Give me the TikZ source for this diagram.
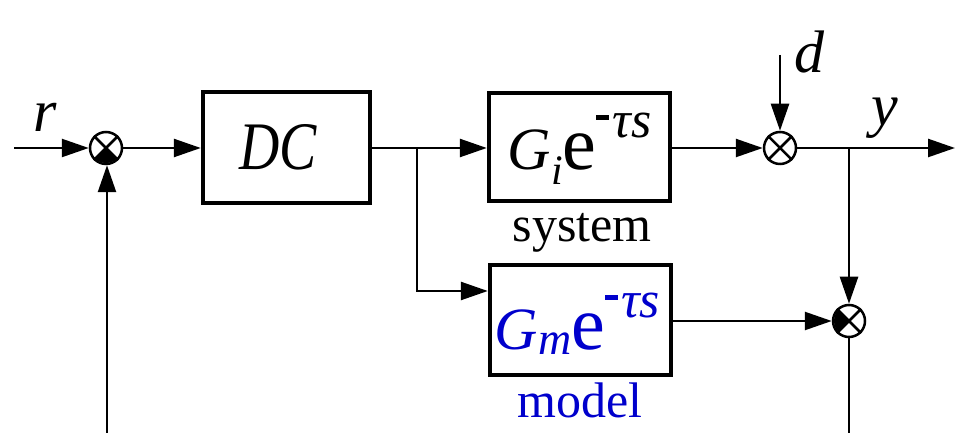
\documentclass[tikz,border=0pt]{standalone}
\usepackage{fontspec}
\setmainfont{Liberation Serif}
\usetikzlibrary{arrows.meta}
\definecolor{modelblue}{RGB}{0,0,204}
\newcommand{\fsz}[1]{\fontsize{#1}{#1}\selectfont}
% #1 subscript letter, #2 drop, #3 size of subscript
\newcommand{\delayexpr}[3]{{\fsz{60}\textit{G}}\raisebox{-#2}{\fsz{#3}\textit{#1}}{\fsz{76}e}\raisebox{50pt}{\rule{13pt}{5pt}}\hspace{3pt}\raisebox{32pt}{\fsz{52}\textit{τs}}}
\begin{document}
\begin{tikzpicture}[x=1pt,y=1pt,
  conn/.style={line width=2.5pt},
  arr/.style={conn,-{Triangle[length=27pt,width=18pt]}},
  blockbox/.style={draw,line width=4.4pt,minimum width=181pt,minimum height=108pt,inner sep=0pt},
  sumc/.style={draw,circle,line width=2.5pt,minimum size=32pt,inner sep=0pt},
  lbl/.style={font=\fsz{60}\itshape,inner sep=0pt,anchor=base},
  sublbl/.style={font=\fsz{50},inner sep=0pt,anchor=base}]
\useasboundingbox (0,0) rectangle (957,433);
% summing junctions
\node[sumc] (s1) at (106,285) {};
\node[sumc] (s2) at (780,285) {};
\node[sumc] (s3) at (849,112) {};
\foreach \s in {s1,s2,s3}{
  \draw[conn] (\s.north west) -- (\s.south east) (\s.north east) -- (\s.south west);
}
\fill (s1.center) -- ++(225:15) arc[start angle=225,end angle=315,radius=15] -- cycle;
\fill (s3.center) -- ++(135:15) arc[start angle=135,end angle=225,radius=15] -- cycle;
% blocks
\node[blockbox,minimum width=167pt,minimum height=111pt,text height=47pt,text depth=3pt] (dc) at (286.5,285.5) {\hspace{-16pt}\scalebox{0.82}[1]{\fsz{68}\textit{DC}}};
\node[blockbox,text height=62pt,text depth=16pt] (gi) at (579.5,286) {\delayexpr{i}{15pt}{42}};
\node[blockbox,text=modelblue,minimum height=110pt,text height=64pt,text depth=4pt] (gm) at (580.5,113) {\hspace{-6pt}\delayexpr{m}{5pt}{46}};
\node[sublbl] (sys) at (582,191) {system};
\node[sublbl,text=modelblue] (mdl) at (580,15) {model};
% labels
\node[lbl] (rl) at (45,301) {r};
\node[lbl] (dl) at (809,360) {d};
\node[lbl] (yl) at (885,307) {y};
% coordinates
\coordinate (rin) at (14,285);
\coordinate (br) at (417,285);
\coordinate (din) at (780,378);
\coordinate (yb) at (849,285);
\coordinate (yout) at (955,285);
\coordinate (fb) at (107,0);
\coordinate (s3end) at (849,0);
\coordinate (gmin) at (417,142);
% connectors
\draw[arr] (rin) -- (s1.west);
\draw[arr] (s1.east) -- (dc.west |- s1.east);
\draw[conn] (dc.east |- br) -- (br);
\draw[arr] (br) -- (gi.west |- br);
\draw[arr] (br) -- (gmin) -- (gm.west |- gmin);
\draw[arr] (gi.east |- s2) -- (s2.west);
\draw[arr] (din) -- (s2.north);
\draw[arr] (s2.east) -- (yout);
\draw[arr] (yb) -- (s3.north);
\draw[arr] (gm.east |- s3) -- (s3.west);
\draw[conn] (s3.south) -- (s3end);
\draw[arr] (fb) -- (fb |- s1.south);
\end{tikzpicture}
\end{document}
